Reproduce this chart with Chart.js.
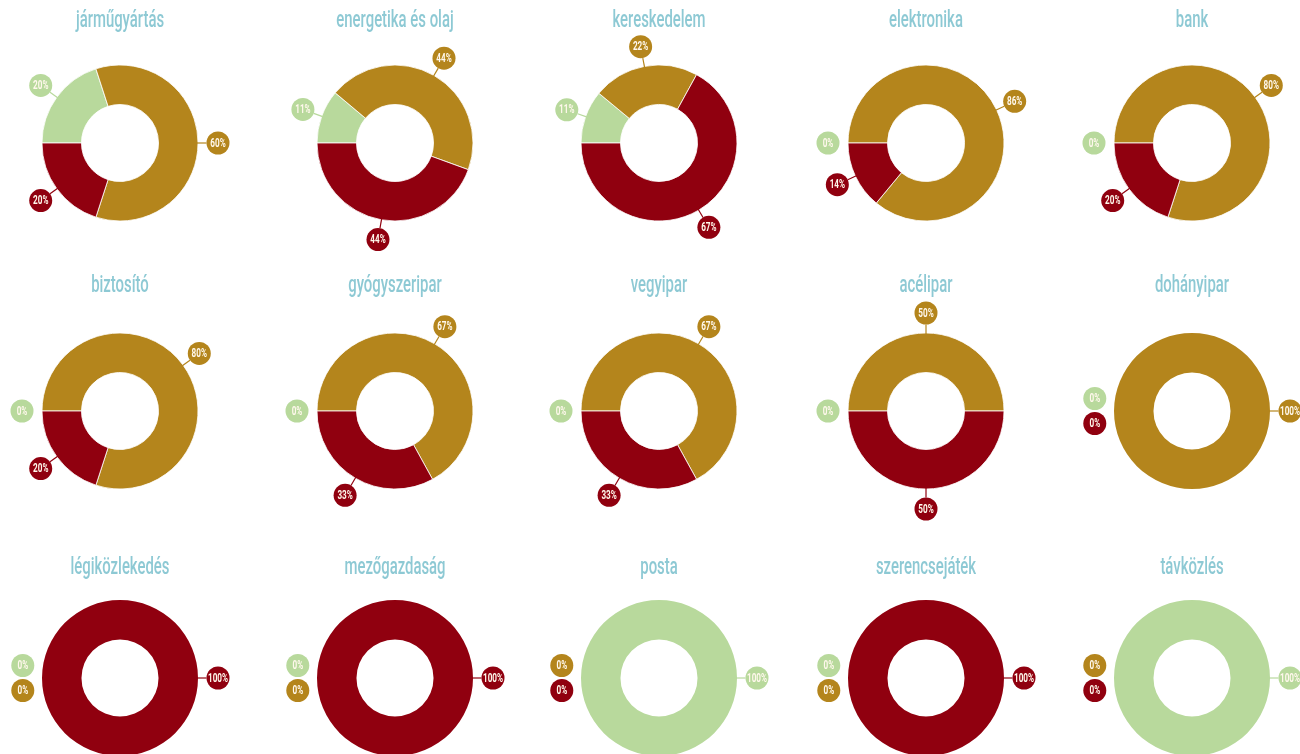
<!DOCTYPE html>
<html>
<head>
<meta charset="utf-8">
<script src="https://cdn.jsdelivr.net/npm/chart.js@4.4.1/dist/chart.umd.min.js"></script>
<style>
  html, body { margin: 0; padding: 0; background: #ffffff; }
  #wrap { position: relative; width: 1300px; height: 754px; overflow: hidden; }
  .ttl { position: absolute; width: 360px; text-align: center; font-family: Roboto, "Noto Sans", sans-serif;
         font-size: 24px; font-weight: 500; line-height: 28px; color: #8DC9D4; transform: scaleX(0.62); transform-origin: 50% 50%; white-space: nowrap; }
  canvas { position: absolute; }
</style>
</head>
<body>
<div id="wrap"></div>
<script>
// ---- data ----
const categories = ['járműgyártás', 'energetika és olaj', 'kereskedelem', 'elektronika', 'bank',
                    'biztosító', 'gyógyszeripar', 'vegyipar', 'acélipar', 'dohányipar',
                    'légiközlekedés', 'mezőgazdaság', 'posta', 'szerencsejáték', 'távközlés'];
const seriesNames = ['zöld', 'arany', 'vörös'];
const greenValues = [20, 11, 11, 0, 0, 0, 0, 0, 0, 0, 0, 0, 100, 0, 100];
const goldValues  = [60, 44, 22, 86, 80, 80, 67, 67, 50, 100, 0, 0, 0, 0, 0];
const redValues   = [20, 44, 67, 14, 20, 20, 33, 33, 50, 0, 100, 100, 0, 100, 0];

// ---- layout / style ----
const colors = ['#B8D99C', '#B4851C', '#90000F'];
const colX = [120, 395, 659, 926, 1192];
const rowY = [143, 411, 678];
const titleY = [20, 285, 567];
const R = 78, CUT = 38.5, LBL_R = 11.5, LBL_D = 98, HALF = 120;

const labelPlugin = {
  id: 'bubbleLabels',
  afterDatasetsDraw(chart) {
    const ctx = chart.ctx;
    const meta = chart.getDatasetMeta(0);
    const ds = chart.data.datasets[0];
    const zeros = [];
    const items = [];
    meta.data.forEach((arc, i) => {
      const p = arc.getProps(['x', 'y', 'startAngle', 'endAngle', 'outerRadius'], true);
      const v = ds.data[i];
      if (v > 0) {
        const a = (p.startAngle + p.endAngle) / 2;
        items.push({ x: p.x + Math.cos(a) * LBL_D, y: p.y + Math.sin(a) * LBL_D, a, p, i, v, line: true });
      } else {
        zeros.push({ p, i, v });
      }
    });
    const n = zeros.length;
    zeros.forEach((z, k) => {
      const dy = (k - (n - 1) / 2) * 25;
      const dx = Math.sqrt(LBL_D * LBL_D - dy * dy);
      items.push({ x: z.p.x - dx, y: z.p.y + dy, p: z.p, i: z.i, v: z.v, line: false });
    });
    items.forEach(it => {
      const col = ds.backgroundColor[it.i];
      ctx.save();
      if (it.line) {
        ctx.strokeStyle = col;
        ctx.lineWidth = 1.2;
        ctx.beginPath();
        ctx.moveTo(it.p.x + Math.cos(it.a) * (it.p.outerRadius - 1), it.p.y + Math.sin(it.a) * (it.p.outerRadius - 1));
        ctx.lineTo(it.p.x + Math.cos(it.a) * (LBL_D - LBL_R), it.p.y + Math.sin(it.a) * (LBL_D - LBL_R));
        ctx.stroke();
      }
      ctx.fillStyle = col;
      ctx.beginPath();
      ctx.arc(it.x, it.y, LBL_R, 0, Math.PI * 2);
      ctx.fill();
      ctx.translate(it.x, it.y);
      ctx.scale(0.68, 1);
      ctx.fillStyle = '#FFF8EC';
      ctx.font = 'bold 12px Roboto, "Noto Sans", sans-serif';
      ctx.textAlign = 'center';
      ctx.textBaseline = 'middle';
      ctx.fillText(it.v + '%', 0, 0.5);
      ctx.restore();
    });
  }
};

const wrap = document.getElementById('wrap');
categories.forEach((cat, idx) => {
  const c = idx % 5, r = Math.floor(idx / 5);
  const cx = colX[c], cy = rowY[r];
  const t = document.createElement('div');
  t.className = 'ttl';
  t.textContent = cat;
  t.style.left = (cx - 180) + 'px';
  t.style.top = (titleY[r] - 15) + 'px';
  const cv = document.createElement('canvas');
  cv.width = HALF * 2; cv.height = HALF * 2;
  cv.style.width = HALF * 2 + 'px'; cv.style.height = HALF * 2 + 'px';
  cv.style.left = (cx - HALF) + 'px';
  cv.style.top = (cy - HALF) + 'px';
  wrap.appendChild(cv);
  wrap.appendChild(t);
  const vals = [greenValues[idx], goldValues[idx], redValues[idx]];
  new Chart(cv, {
    type: 'doughnut',
    data: {
      labels: seriesNames,
      datasets: [{
        data: vals,
        backgroundColor: colors,
        borderColor: 'rgba(255,255,255,0.8)',
        borderWidth: (ctx) => (ctx.raw > 0 && ctx.raw < 99.5) ? 1 : 0,
        hoverOffset: 0
      }]
    },
    options: {
      responsive: false,
      maintainAspectRatio: false,
      animation: false,
      events: [],
      rotation: 270,
      radius: R,
      cutout: (CUT / R * 100).toFixed(1) + '%',
      layout: { padding: 0 },
      plugins: { legend: { display: false }, tooltip: { enabled: false }, title: { display: false } }
    },
    plugins: [labelPlugin]
  });
});
</script>
</body>
</html>
